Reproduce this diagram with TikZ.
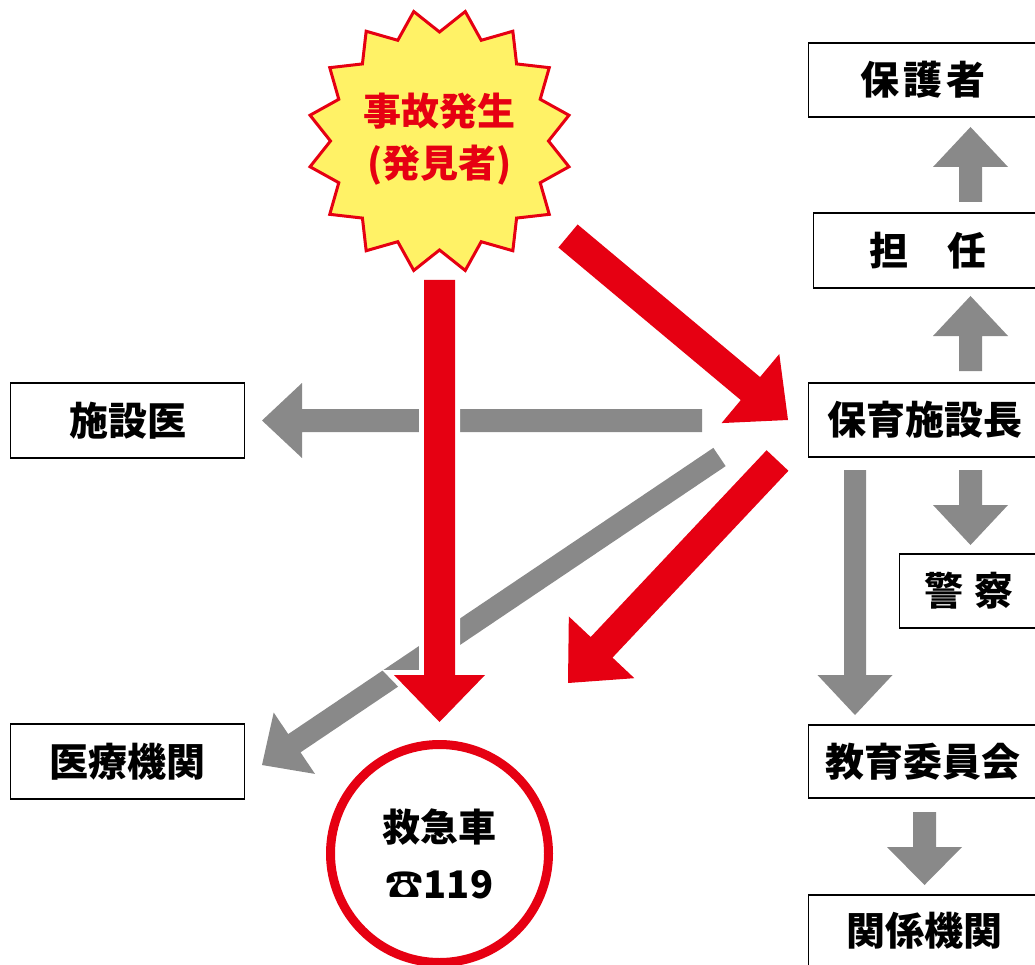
\documentclass[tikz,border=0pt]{standalone}
\usepackage{fontspec}
\newfontfamily\jp{Noto Sans CJK JP}
\usetikzlibrary{calc}
\definecolor{jred}{RGB}{230,0,18}
\definecolor{agray}{RGB}{137,137,137}
\definecolor{byellow}{RGB}{255,242,102}
% #1 style, #2 tail, #3 tip, #4 half shaft width, #5 half head width, #6 head length
\newcommand\blockarrow[6][]{%
  \coordinate (ba-c) at ($(#3)!#6!(#2)$);
  \path[#1] ($(#2)!#4!90:(#3)$) -- ($(ba-c)!#4!90:(#3)$) -- ($(ba-c)!#5!90:(#3)$)
    -- (#3) -- ($(ba-c)!#5!-90:(#3)$) -- ($(ba-c)!#4!-90:(#3)$) -- ($(#2)!#4!-90:(#3)$) -- cycle;
}
\tikzset{
  box/.style={draw=black, line width=1.1pt, fill=white, inner sep=0pt, anchor=west,
    font={\jp\bfseries\fontsize{39pt}{40pt}\selectfont}},
  grayarrow/.style={fill=agray},
  redarrow/.style={fill=jred},
  redarrowcut/.style={fill=jred, preaction={draw=white, line width=10pt, line join=miter}},
  burststyle/.style={fill=byellow, draw=jred, line width=3pt, line join=miter},
}
\begin{document}
\begin{tikzpicture}[x=1pt, y=-1pt]
\useasboundingbox (0,0) rectangle (1035,965);
\clip (0,0) rectangle (1035,965);
\fill[white] (0,0) rectangle (1035,965);

% boxes
\node[box, minimum width=229, minimum height=74] (hogosha) at (808,80) {保\hspace{4pt}護\hspace{4pt}者};
\node[box, minimum width=229, minimum height=75] (tannin) at (813,250.5) {担\hspace{39pt}任};
\node[box, minimum width=233, minimum height=74] (chou) at (808,420) {保育施設長};
\node[box, minimum width=139, minimum height=74] (keisatsu) at (899,591) {警\hspace{11pt}察};
\node[box, minimum width=229, minimum height=73] (kyoiku) at (808,761.5) {教育委員会};
\node[box, minimum width=232, minimum height=72] (kankei) at (808,931) {関係機関};
\node[box, minimum width=234, minimum height=75] (shisetsui) at (10,420.5) {施設医};
\node[box, minimum width=234, minimum height=75] (iryo) at (10,761.5) {医療機関};

% arrow end points
\coordinate (g1t) at (702,420.5);   \coordinate (g1h) at (262,420.5);
\coordinate (g2t) at (719.5,457);   \coordinate (g2h) at (262,765);
\coordinate (g3t) at (855,470);     \coordinate (g3h) at (855,715);
\coordinate (g4t) at (970.5,470);   \coordinate (g4h) at (970.5,545);
\coordinate (g5t) at (924.5,812);   \coordinate (g5h) at (924.5,885);
\coordinate (g6t) at (970.5,371);   \coordinate (g6h) at (970.5,296);
\coordinate (g7t) at (970.5,202);   \coordinate (g7h) at (970.5,127);
\coordinate (rvt) at (439.5,280);   \coordinate (rvh) at (439.5,722);
\coordinate (r1t) at (568,236);     \coordinate (r1h) at (788,420);
\coordinate (r2t) at (777.5,460.5); \coordinate (r2h) at (568,683);

% gray arrows
\blockarrow[grayarrow]{g1t}{g1h}{11.5pt}{37.5pt}{40pt}
\blockarrow[grayarrow]{g2t}{g2h}{11pt}{37pt}{39pt}
\blockarrow[grayarrow]{g3t}{g3h}{11pt}{37.5pt}{40pt}
\blockarrow[grayarrow]{g4t}{g4h}{11.5pt}{37.5pt}{40pt}
\blockarrow[grayarrow]{g5t}{g5h}{11.5pt}{37.5pt}{38pt}
\blockarrow[grayarrow]{g6t}{g6h}{11.5pt}{37.5pt}{40pt}
\blockarrow[grayarrow]{g7t}{g7h}{11.5pt}{37.5pt}{40pt}

% red arrows
\blockarrow[redarrow]{r1t}{r1h}{15pt}{45pt}{49pt}
\blockarrow[redarrow]{r2t}{r2h}{15pt}{45pt}{49pt}
\blockarrow[redarrowcut]{rvt}{rvh}{15.5pt}{45.5pt}{47pt}

% starburst
\coordinate (bc) at (439.5,141);
\draw[burststyle, shift={(bc)}] (101.25:132)
  \foreach \k in {1,...,31} { -- ({101.25+\k*11.25}:{ifthenelse(isodd(\k),109,132)}) } -- cycle;
\node[text=jred, align=center, inner sep=0pt,
  font={\jp\bfseries\fontsize{38pt}{52pt}\selectfont}] (burst) at (439.5,139) {事故発生\\(発見者)};

% ambulance
\node[circle, draw=jred, line width=9pt, fill=white, minimum size=218pt, inner sep=0pt,
  align=center, font={\jp\bfseries\fontsize{38pt}{57pt}\selectfont}] (kyukyu) at (439.5,853.5) {救急車\\☎119};
\end{tikzpicture}
\end{document}
